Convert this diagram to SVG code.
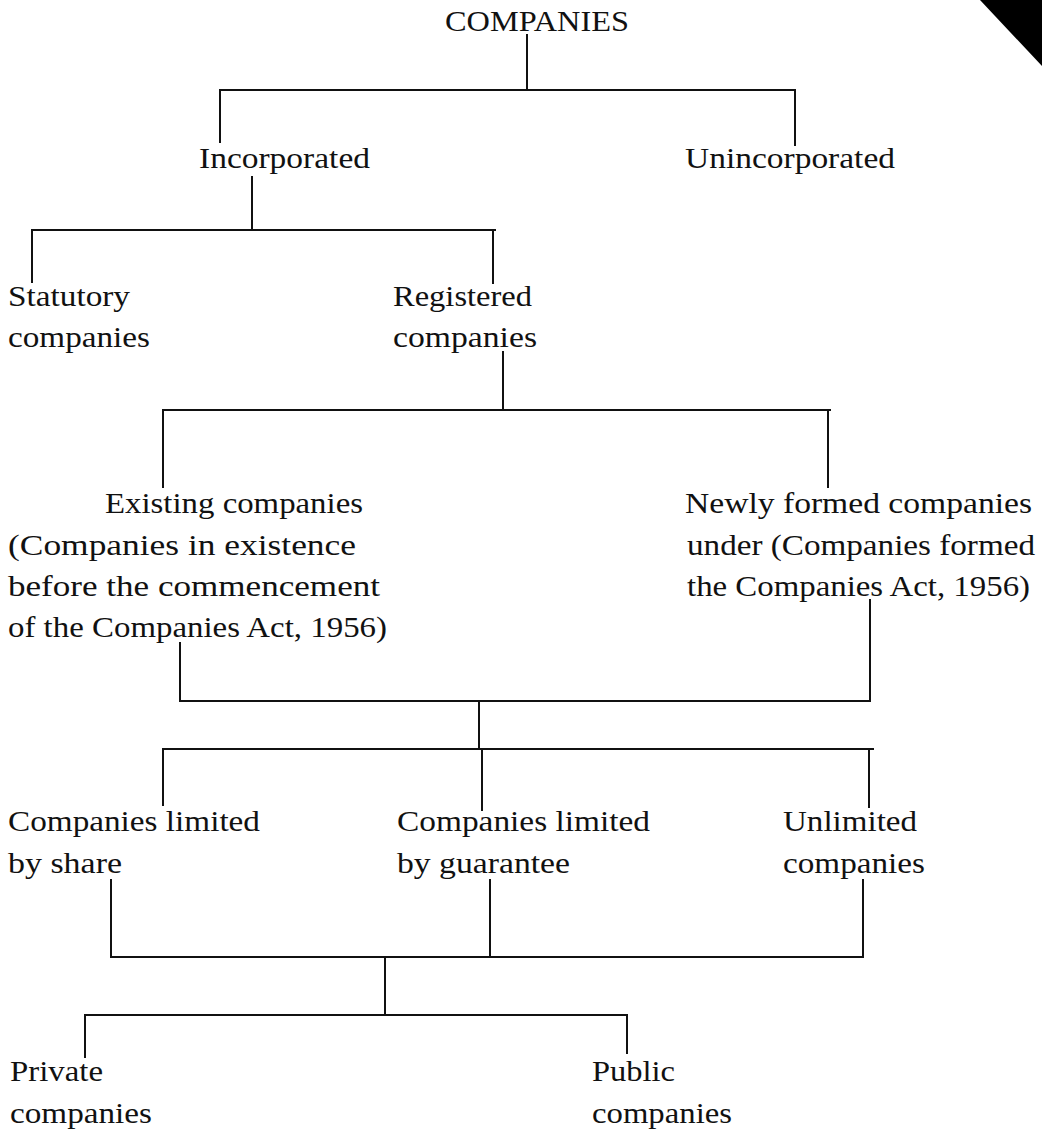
<svg xmlns="http://www.w3.org/2000/svg" width="1042" height="1130" viewBox="0 0 1042 1130">
<style>
text{font-family:"Liberation Serif","Times New Roman",serif;font-size:30px;fill:#111;}
.c{fill:none;stroke:#111;stroke-width:2;stroke-linecap:square;}
</style>
<rect x="0" y="0" width="1042" height="1130" fill="#fff"/>
<path d="M980,0 L1042,0 L1042,66 Z" fill="#000"/>
<g id="connectors" class="c">
<path d="M527,35 V90 M220,90 H795 M220,90 V142 M795,90 V145"/>
<path d="M252,177 V230 M32,230 H495 M32,230 V282 M493,230 V283"/>
<path d="M503,352 V410 M163,410 H830 M163,410 V487 M828,410 V487"/>
<path d="M180,643 V701 M870,600 V701 M180,701 H870 M479,701 V749 M163,749 H873 M163,749 V805 M482,749 V810 M869,749 V807"/>
<path d="M111,880 V957 M490,880 V957 M863,880 V957 M111,957 H863 M385,957 V1015 M85,1015 H627 M85,1015 V1057 M627,1015 V1053"/>
</g>
<g id="companies"><text x="445" y="31" textLength="184" lengthAdjust="spacingAndGlyphs">COMPANIES</text></g>
<g id="incorporated"><text x="199" y="168" textLength="171" lengthAdjust="spacingAndGlyphs">Incorporated</text></g>
<g id="unincorporated"><text x="685" y="168" textLength="210" lengthAdjust="spacingAndGlyphs">Unincorporated</text></g>
<g id="statutory">
<text x="8" y="306" textLength="122" lengthAdjust="spacingAndGlyphs">Statutory</text>
<text x="8" y="347" textLength="142" lengthAdjust="spacingAndGlyphs">companies</text>
</g>
<g id="registered">
<text x="393" y="306" textLength="139" lengthAdjust="spacingAndGlyphs">Registered</text>
<text x="393" y="347" textLength="144" lengthAdjust="spacingAndGlyphs">companies</text>
</g>
<g id="existing">
<text x="105" y="513" textLength="258" lengthAdjust="spacingAndGlyphs">Existing companies</text>
<text x="8" y="555" textLength="348" lengthAdjust="spacingAndGlyphs">(Companies in existence</text>
<text x="8" y="596" textLength="372" lengthAdjust="spacingAndGlyphs">before the commencement</text>
<text x="8" y="637" textLength="379" lengthAdjust="spacingAndGlyphs">of the Companies Act, 1956)</text>
</g>
<g id="newly-formed">
<text x="685" y="513" textLength="347" lengthAdjust="spacingAndGlyphs">Newly formed companies</text>
<text x="687" y="555" textLength="348" lengthAdjust="spacingAndGlyphs">under (Companies formed</text>
<text x="687" y="596" textLength="343" lengthAdjust="spacingAndGlyphs">the Companies Act, 1956)</text>
</g>
<g id="limited-by-share">
<text x="8" y="831" textLength="252" lengthAdjust="spacingAndGlyphs">Companies limited</text>
<text x="8" y="873" textLength="114" lengthAdjust="spacingAndGlyphs">by share</text>
</g>
<g id="limited-by-guarantee">
<text x="397" y="831" textLength="253" lengthAdjust="spacingAndGlyphs">Companies limited</text>
<text x="397" y="873" textLength="173" lengthAdjust="spacingAndGlyphs">by guarantee</text>
</g>
<g id="unlimited">
<text x="783" y="831" textLength="134" lengthAdjust="spacingAndGlyphs">Unlimited</text>
<text x="783" y="873" textLength="142" lengthAdjust="spacingAndGlyphs">companies</text>
</g>
<g id="private">
<text x="10" y="1081" textLength="93" lengthAdjust="spacingAndGlyphs">Private</text>
<text x="10" y="1123" textLength="142" lengthAdjust="spacingAndGlyphs">companies</text>
</g>
<g id="public">
<text x="592" y="1081" textLength="83" lengthAdjust="spacingAndGlyphs">Public</text>
<text x="592" y="1123" textLength="140" lengthAdjust="spacingAndGlyphs">companies</text>
</g>
</svg>
